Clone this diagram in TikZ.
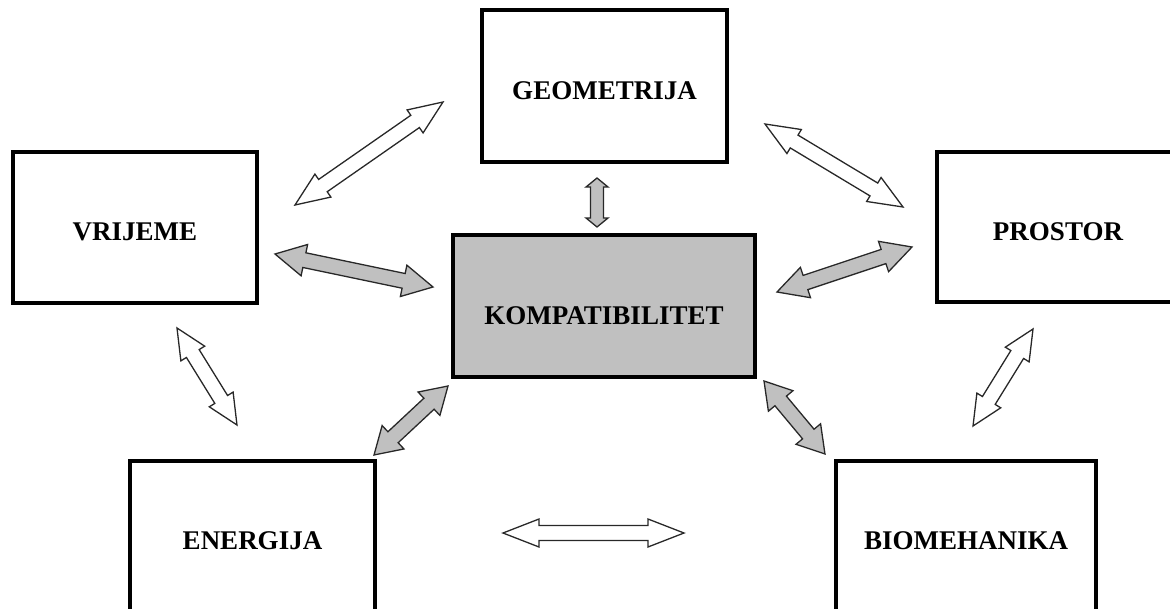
\documentclass[tikz,border=0pt]{standalone}
\usepackage{fontspec}
\setmainfont{Liberation Serif}
\usetikzlibrary{calc}

\newcommand\dblarrow[6]{%
  \pgfpointdiff{\pgfpointanchor{#2}{center}}{\pgfpointanchor{#3}{center}}%
  \pgfgetlastxy{\arrdx}{\arrdy}%
  \pgfmathsetmacro\arrang{atan2(\arrdy,\arrdx)}%
  \pgfmathsetmacro\arrlen{veclen(\arrdx,\arrdy)}%
  \pgfmathsetmacro\arrneck{\arrlen-#6}%
  \begin{scope}[shift={(#2)},rotate=\arrang]
    \draw[#1] (0,0) -- (#6,#5) -- (#6,#4) -- (\arrneck,#4) -- (\arrneck,#5)
      -- (\arrlen,0) -- (\arrneck,-#5) -- (\arrneck,-#4) -- (#6,-#4) -- (#6,-#5) -- cycle;
  \end{scope}}

\definecolor{boxgray}{RGB}{192,192,192}
\definecolor{edgegray}{RGB}{40,40,40}

\tikzset{
  box/.style={draw=black, line width=4pt, rectangle, inner sep=0pt,
    font=\fontsize{27}{30}\selectfont\bfseries, text height=26pt, text depth=0pt},
  whitearrow/.style={draw=edgegray, fill=white, line width=1.3pt, line join=miter},
  grayarrow/.style={draw=edgegray, fill=boxgray, line width=1.3pt, line join=miter},
}

\begin{document}
\begin{tikzpicture}[x=1pt,y=-1pt]
\useasboundingbox (0,0) rectangle (1170,608);
\clip (0,0) rectangle (1170,608);

% boxes
\node[box, minimum width=245pt, minimum height=152pt] (geo) at (604.5,86) {GEOMETRIJA};
\node[box, minimum width=244pt, minimum height=151pt] (vri) at (135,227.5) {VRIJEME};
\node[box, minimum width=242pt, minimum height=150pt] (pro) at (1058,227) {PROSTOR};
\node[box, fill=boxgray, minimum width=302pt, minimum height=142pt, text height=36pt] (kom) at (604,306) {KOMPATIBILITET};
\node[box, minimum width=245pt, minimum height=151pt] (ene) at (252.5,536.5) {ENERGIJA};
\node[box, minimum width=260pt, minimum height=151pt] (bio) at (966,536.5) {BIOMEHANIKA};

% arrow end points
\coordinate (a1s) at (295,205);  \coordinate (a1e) at (443,102);
\coordinate (a2s) at (765,124);  \coordinate (a2e) at (903,207);
\coordinate (a3s) at (275,254);  \coordinate (a3e) at (433,287);
\coordinate (a4s) at (777,292);  \coordinate (a4e) at (912,247);
\coordinate (a5s) at (597,178);  \coordinate (a5e) at (597,227);
\coordinate (a6s) at (177,328);  \coordinate (a6e) at (237,425);
\coordinate (a7s) at (1033,329); \coordinate (a7e) at (973,426);
\coordinate (a8s) at (448,386);  \coordinate (a8e) at (374,455);
\coordinate (a9s) at (764,381);  \coordinate (a9e) at (825,454);
\coordinate (a10s) at (503,533); \coordinate (a10e) at (684,533);

% white arrows
\dblarrow{whitearrow}{a1s}{a1e}{7.5}{14}{34}
\dblarrow{whitearrow}{a2s}{a2e}{7.5}{14}{34}
\dblarrow{whitearrow}{a6s}{a6e}{7.5}{14}{30}
\dblarrow{whitearrow}{a7s}{a7e}{7.5}{14}{30}
\dblarrow{whitearrow}{a10s}{a10e}{7.5}{14}{36}

% gray arrows
\dblarrow{grayarrow}{a3s}{a3e}{7.5}{16}{30}
\dblarrow{grayarrow}{a4s}{a4e}{7.5}{16}{30}
\dblarrow{grayarrow}{a8s}{a8e}{7.5}{16}{26}
\dblarrow{grayarrow}{a9s}{a9e}{7.5}{16}{26}
\dblarrow{grayarrow}{a5s}{a5e}{6.5}{11}{9}
\end{tikzpicture}
\end{document}
